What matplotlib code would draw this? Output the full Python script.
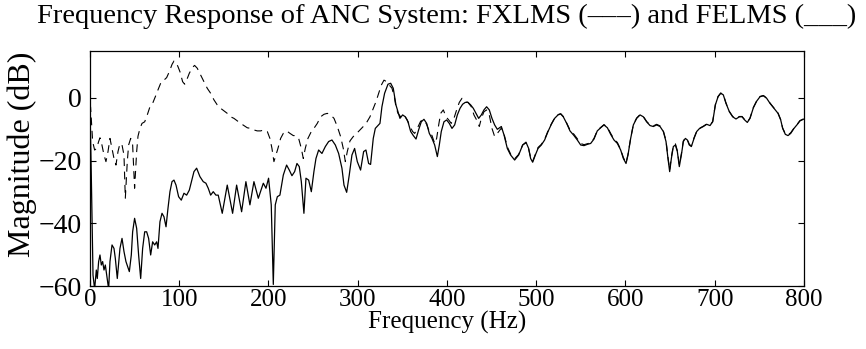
import matplotlib
matplotlib.use('Agg')
import matplotlib.pyplot as plt

# FELMS (solid) - frequency in Hz, magnitude in dB
felms_f = [0, 1.5, 3.4, 5.2, 7.1, 8.2, 9.7, 11.2, 12.7, 14.2, 15.7, 17.2, 18.7, 20.9, 22.4,
           24.7, 26.9, 28.4, 30.6, 33.6, 35.9, 38.1, 40.3, 44.1, 46.3, 47.8, 50.0, 52.3, 54.5,
           56.8, 59.0, 61.3, 63.5, 65.7, 68.0, 70.2, 72.5, 74.7, 76.2, 78.4, 80.7, 82.9, 85.2,
           87.4, 89.6, 91.9, 94.1, 96.4, 99.3, 102.3, 105.3, 108.3, 111.3, 114.3, 116.5, 119.5,
           123.2, 126.9, 129.9, 132.5, 135.2, 138.1, 141.1, 143.7, 148.2, 153.8, 159.8, 164.3,
           169.9, 174.7, 179.2, 183.7, 188.6, 194.2, 197.2, 200.1, 203.1, 205.4, 207.6, 209.9,
           212.8, 216.6, 220.3, 223.3, 226.3, 229.3, 231.9, 234.5, 236.8, 239.7, 242.0, 245.0,
           248.0, 250.9, 253.2, 256.2, 259.9, 263.7, 267.4, 271.1, 274.9, 278.6, 282.3, 284.6,
           287.6, 290.5, 293.5, 296.5, 299.5, 303.2, 306.6, 309.2, 312.2, 314.4, 317.4, 319.7,
           322.7, 324.9, 327.1, 330.1, 333.9, 336.9, 339.8, 342.8, 345.1, 347.3, 350.3, 353.3,
           356.3, 359.3, 362.3, 365.3, 368.2, 371.2, 374.2, 377.2, 380.2, 383.2, 386.2, 389.2,
           391.4, 393.6, 396.6, 399.6, 402.6, 405.6, 408.6, 411.6, 414.6, 417.5, 420.5, 423.5,
           426.5, 429.5, 432.5, 435.5, 438.5, 441.4, 444.4, 447.4, 450.4, 453.4, 456.4, 460.9,
           463.9, 467.6, 471.3, 475.8, 480.3, 484.8, 488.5, 491.5, 493.7, 496.0, 499.0, 502.0,
           505.7, 509.4, 513.2, 516.9, 520.6, 524.4, 527.4, 530.3, 534.1, 537.8, 542.3, 546.0,
           549.8, 553.5, 557.2, 561.0, 564.7, 568.4, 572.2, 575.9, 579.7, 583.4, 587.1, 590.9,
           594.6, 597.6, 600.6, 602.8, 605.8, 608.8, 612.5, 616.3, 620.0, 623.7, 627.5, 631.2,
           634.9, 638.7, 642.4, 645.4, 647.6, 649.5, 651.4, 653.6, 655.9, 658.1, 660.3, 662.6,
           664.8, 667.1, 669.3, 671.5, 673.8, 676.8, 679.8, 682.7, 687.2, 691.0, 694.7, 697.7,
           700.7, 703.7, 706.7, 709.6, 712.6, 716.4, 720.1, 723.8, 727.6, 730.6, 733.5, 736.5,
           739.5, 743.3, 747.0, 750.7, 754.5, 758.2, 761.9, 766.4, 770.9, 773.9, 776.1, 779.1,
           782.1, 785.1, 788.8, 792.6, 795.5, 800.0]
felms_db = [-3, -25, -56.5, -61, -54.9, -57.6, -52.2, -50.1, -53.3, -52.2, -54.9, -53.3, -56.5, -61, -52.2,
            -46.9, -48.0, -51.2, -57.6, -48.0, -44.8, -49.0, -52.2, -55.4, -50.1, -42.7, -38.4, -41.6, -50.1,
            -57.6, -48.0, -42.7, -42.7, -44.8, -50.1, -45.9, -46.9, -45.9, -48.0, -39.5, -36.8, -37.9, -41.1,
            -35.2, -29.9, -26.7, -26.2, -27.8, -31.5, -32.6, -30.4, -31.0, -29.4, -26.0, -23.5, -22.4,
            -25.1, -26.7, -27.2, -28.8, -31.0, -29.9, -31.0, -31.0, -36.8, -27.8, -36.8, -27.8,
            -36.3, -26.7, -34.1, -26.7, -32.0, -27.2, -28.8, -25.6, -34.1, -59.5, -34.1, -31.5,
            -31.0, -24.6, -21.4, -23.0, -24.8, -23.5, -20.9, -21.9, -26.7, -36.8, -25.6, -26.2,
            -29.9, -23.5, -19.3, -16.6, -17.7, -15.5, -13.9, -13.4, -15.0, -17.7, -22.4, -27.8,
            -30.1, -24.6, -18.2, -16.1, -20.3, -23.0, -17.1, -16.6, -20.9, -21.2, -12.9, -9.7,
            -8.8, -8.1, -2.8, 1.5, 4.4, 4.7, 3.1, -2.2, -4.4, -6.5, -5.4, -6.0,
            -7.6, -10.7, -12.0, -13.1, -10.2, -7.6, -6.8, -8.1, -11.3, -12.9, -15.0, -18.7,
            -15.0, -10.7, -7.6, -7.0, -8.1, -9.7, -8.6, -5.4, -3.3, -2.0, -1.4, -1.4,
            -2.2, -3.3, -4.9, -6.5, -5.4, -3.8, -2.8, -3.8, -6.5, -8.6, -10.0, -9.1,
            -11.8, -16.1, -18.2, -19.8, -18.2, -15.0, -14.1, -16.1, -19.3, -20.5, -18.2, -16.1,
            -15.0, -13.4, -10.7, -8.4, -6.5, -5.4, -5.1, -6.0, -8.1, -10.5, -12.0, -13.4,
            -15.0, -15.2, -14.8, -14.5, -13.1, -10.5, -9.5, -8.6, -9.5, -11.6, -13.4, -14.5,
            -16.6, -19.3, -20.9, -18.2, -12.9, -8.6, -6.5, -5.4, -6.0, -7.6, -8.8, -9.1,
            -8.6, -9.1, -10.7, -13.9, -19.3, -23.5, -19.3, -15.5, -15.0, -17.1, -21.9, -18.2,
            -13.9, -12.9, -13.4, -15.0, -15.5, -12.9, -10.7, -9.8, -9.1, -8.4, -8.8, -7.6,
            -2.2, 0.4, 1.5, 1.0, -1.7, -4.4, -6.0, -6.7, -6.0, -6.0, -7.0, -7.8,
            -6.5, -3.1, -1.0, 0.4, 0.7, -0.1, -1.7, -3.3, -4.9, -7.0, -9.7, -11.6,
            -12.0, -11.3, -9.7, -8.4, -7.3, -6.7]

# FXLMS (dashed)
fxlms_f = [0, 0.7, 3.0, 5.2, 7.5, 9.7, 11.2, 13.4, 15.7, 17.9, 20.2, 22.4, 24.7, 26.9, 29.1,
           31.4, 33.6, 35.9, 38.1, 39.6, 41.8, 43.3, 45.6, 47.8, 50.0, 52.3, 53.8, 56.0, 58.3,
           61.3, 64.2, 67.2, 70.2, 73.2, 76.2, 79.9, 82.9, 85.9, 88.9, 91.9, 94.1, 96.4, 98.6,
           100.8, 103.8, 106.1, 108.3, 111.3, 115.0, 117.2, 120.2, 124.0, 127.7, 131.4, 135.2,
           138.9, 142.6, 146.4, 150.1, 153.8, 157.6, 161.3, 165.0, 168.8, 172.5, 176.2, 180.0,
           183.7, 187.4, 191.2, 194.9, 198.7, 201.6, 203.9, 206.1, 208.4, 210.6, 213.6, 216.6,
           220.3, 224.1, 227.8, 230.0, 233.8, 236.8, 239.0, 241.2, 244.2, 248.0, 250.9, 254.7,
           258.4, 262.2, 265.9, 269.6, 273.4, 277.1, 280.8, 283.8, 286.1, 288.3, 291.3, 295.0,
           298.8, 302.5, 306.2, 310.0, 313.7, 317.4, 320.4, 323.4, 326.4, 329.4, 332.4, 335.4,
           338.4, 341.3, 342.8, 345.1, 348.1, 351.8, 355.5, 358.5, 361.5, 363.8, 366.7, 370.5,
           374.2, 377.2, 380.2, 383.2, 386.2, 388.4, 390.7, 392.9, 395.9, 398.9, 401.9, 404.8,
           407.8, 410.8, 413.8, 416.8, 419.8, 423.5, 427.3, 430.2, 433.2, 436.2, 438.5, 441.4,
           444.4, 447.4, 450.4, 453.4, 456.4, 460.9, 463.9, 467.6, 471.3, 475.8, 480.3, 484.8,
           488.5, 491.5, 493.7, 496.0, 499.0, 502.0, 505.7, 509.4, 513.2, 516.9, 520.6, 524.4,
           527.4, 530.3, 534.1, 537.8, 542.3, 546.0, 549.8, 553.5, 557.2, 561.0, 564.7, 568.4,
           572.2, 575.9, 579.7, 583.4, 587.1, 590.9, 594.6, 597.6, 600.6, 602.8, 605.8, 608.8,
           612.5, 616.3, 620.0, 623.7, 627.5, 631.2, 634.9, 638.7, 642.4, 645.4, 647.6, 649.5,
           651.4, 653.6, 655.9, 658.1, 660.3, 662.6, 664.8, 667.1, 669.3, 671.5, 673.8, 676.8,
           679.8, 682.7, 687.2, 691.0, 694.7, 697.7, 700.7, 703.7, 706.7, 709.6, 712.6, 716.4,
           720.1, 723.8, 727.6, 730.6, 733.5, 736.5, 739.5, 743.3, 747.0, 750.7, 754.5, 758.2,
           761.9, 766.4, 770.9, 773.9, 776.1, 779.1, 782.1, 785.1, 788.8, 792.6, 795.5, 800.0]
fxlms_db = [-2, -3, -13.9, -16.6, -16.1, -13.9, -12.7, -15.0, -18.2, -20.3, -17.1, -12.9, -16.1, -19.3, -21.4,
            -17.1, -14.5, -15.0, -18.2, -32.0, -20.3, -15.0, -12.9, -15.0, -28.8, -17.1, -12.2, -9.7, -8.1,
            -7.6, -5.4, -2.8, -1.7, 0.4, 2.6, 5.2, 5.7, 6.5, 8.4, 10.7, 11.8, 11.4, 10.0,
            8.4, 5.2, 4.4, 5.7, 7.9, 9.8, 10.4, 9.5, 7.3, 5.2, 3.1, 1.5,
            -0.6, -2.2, -3.3, -4.1, -4.9, -6.0, -6.5, -7.3, -8.1, -8.8, -9.5, -9.7,
            -10.2, -10.5, -10.5, -10.2, -10.7, -12.9, -16.1, -20.3, -18.2, -16.1, -12.9, -11.3,
            -10.5, -11.3, -12.0, -12.0, -12.9, -16.1, -19.3, -16.1, -12.9, -10.7, -9.7, -8.1,
            -6.0, -5.2, -4.9, -5.4, -6.5, -9.1, -12.3, -16.1, -20.3, -17.1, -13.7, -12.3,
            -11.3, -10.2, -9.1, -7.8, -6.0, -3.3, -1.2, 1.5, 4.1, 5.7, 5.2, 4.1,
            3.1, -0.1, -2.8, -4.9, -6.0, -5.4, -7.0, -9.1, -10.7, -11.3, -9.7, -7.4,
            -7.0, -8.4, -10.7, -12.0, -14.5, -12.9, -8.6, -4.9, -3.8, -6.0, -7.0, -8.1,
            -6.5, -3.8, -1.4, -0.1, -1.0, -1.4, -2.8, -5.4, -7.0, -9.1, -6.5, -4.4,
            -3.8, -5.4, -9.7, -12.3, -11.3, -9.6, -11.5, -15.6, -17.9, -19.4, -18.0, -15.0,
            -14.3, -16.3, -19.0, -20.2, -18.0, -15.8, -14.8, -13.2, -10.5, -8.3, -6.4, -5.3,
            -5.0, -5.9, -8.0, -10.2, -11.6, -13.0, -14.5, -14.9, -14.6, -14.3, -12.9, -10.4,
            -9.4, -8.5, -9.3, -11.3, -13.1, -14.2, -16.4, -19.0, -20.7, -18.0, -12.8, -8.5,
            -6.4, -5.3, -5.9, -7.5, -8.6, -8.9, -8.4, -8.9, -10.5, -13.6, -18.9, -22.9,
            -18.8, -15.2, -14.6, -16.8, -21.3, -17.8, -13.7, -12.7, -13.2, -14.8, -15.3, -12.7,
            -10.6, -9.7, -9.0, -8.3, -8.7, -7.5, -2.1, 0.5, 1.6, 1.1, -1.6, -4.3,
            -5.9, -6.6, -5.9, -5.9, -6.9, -7.7, -6.4, -3.0, -0.9, 0.5, 0.8, 0.0,
            -1.6, -3.2, -4.8, -6.9, -9.6, -11.4, -11.8, -11.1, -9.6, -8.3, -7.2, -6.6]

plt.rcParams['font.family'] = ['Liberation Serif', 'DejaVu Serif']

fig = plt.figure(figsize=(8.66, 3.49), dpi=100)
ax = fig.add_axes([0.1039, 0.1805, 0.8245, 0.6734])

ax.plot(fxlms_f, fxlms_db, color='black', linewidth=0.8, linestyle=(0, (7, 5)))
ax.plot(felms_f, felms_db, color='black', linewidth=0.9)

ax.set_xlim(0, 800)
ax.set_ylim(-60, 15)
ax.set_xticks([0, 100, 200, 300, 400, 500, 600, 700, 800])
ax.set_yticks([-60, -40, -20, 0])
ax.tick_params(direction='in', length=4, width=0.8, top=True, right=True)
ax.tick_params(axis='x', labelsize=18, pad=2)
ax.tick_params(axis='y', labelsize=20, pad=6)
for s in ax.spines.values():
    s.set_linewidth(0.9)

ax.set_xlabel('Frequency (Hz)', fontsize=18, labelpad=0)
ax.set_ylabel('Magnitude (dB)', fontsize=23)
ax.yaxis.set_label_coords(-0.074, 0.56)
ax.set_title('Frequency Response of ANC System: FXLMS (\u2013\u2013\u2013) and FELMS (___)',
             fontsize=20.5, pad=20)

fig.savefig('out.png', dpi=100)
